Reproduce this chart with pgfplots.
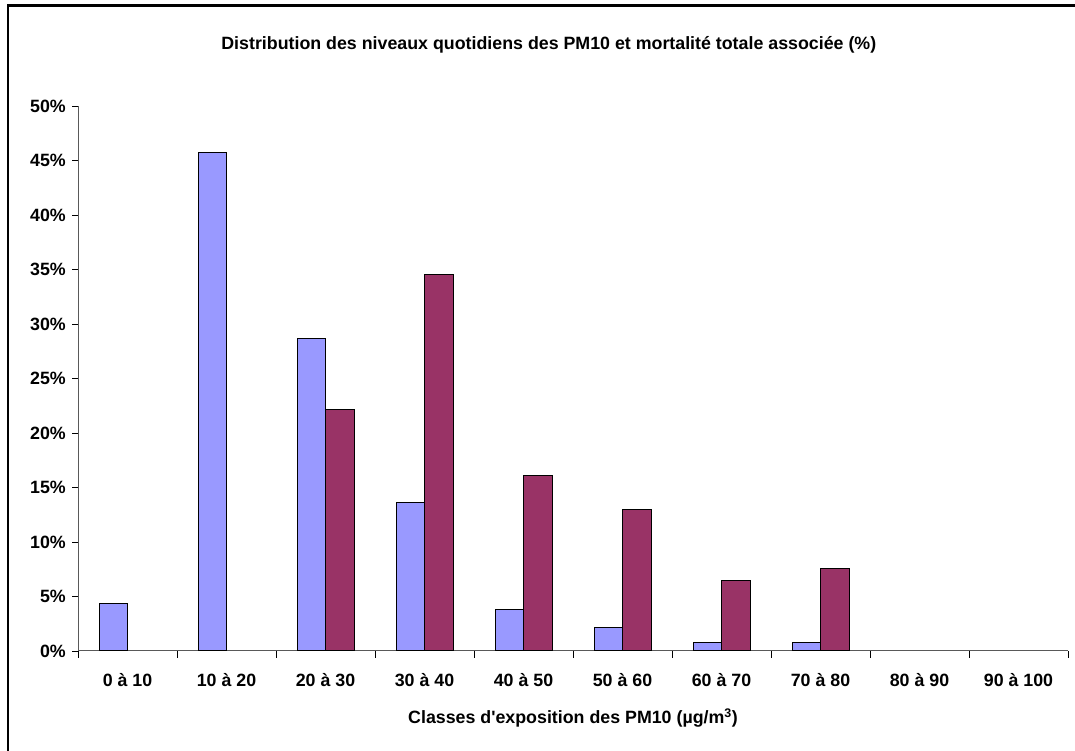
\documentclass[border=0pt]{standalone}
\usepackage{fontspec}
\setmainfont{Liberation Sans}
\usepackage{pgfplots}
\pgfplotsset{compat=1.18}

\definecolor{pmblue}{RGB}{153,153,255}
\definecolor{pmred}{RGB}{153,51,102}
\newcommand{\chartfont}{\fontsize{17.8bp}{20bp}\selectfont\bfseries}

\begin{document}
\begin{tikzpicture}[x=1bp,y=1bp]
\path[use as bounding box] (0,0) rectangle (1075,751);
% outer chart frame
\draw[line width=2.6bp] (8,-20) -- (8,745.7) -- (1100,745.7);
\node[anchor=base, font=\chartfont, inner sep=0pt] at (548.8,701)
  {Distribution des niveaux quotidiens des PM10 et mortalité totale associée (\%)};
\begin{axis}[
  at={(78bp,100bp)}, anchor=south west,
  width=990bp, height=545bp, scale only axis,
  xmin=-0.5, xmax=9.5, ymin=0, ymax=50,
  axis lines=left, axis line style={-, draw=black!65, line width=1bp},
  tick align=outside,
  major tick length=6bp, minor tick length=7bp,
  xtick={0,...,9},
  xticklabels={0 à 10,10 à 20,20 à 30,30 à 40,40 à 50,50 à 60,60 à 70,70 à 80,80 à 90,90 à 100},
  major x tick style={draw=none},
  minor xtick={-0.5,0.5,...,9.5},
  minor x tick style={draw=black, line width=0.8bp},
  ytick={0,5,...,50},
  yticklabels={0\%,5\%,10\%,15\%,20\%,25\%,30\%,35\%,40\%,45\%,50\%},
  y tick style={draw=black, line width=0.8bp},
  xticklabel style={font=\chartfont, anchor=base, inner sep=0pt, yshift=-30bp},
  yticklabel style={font=\chartfont, anchor=east, inner sep=0pt, xshift=-6bp},
  xlabel={Classes d\textquotesingle exposition des PM10 (µg/m\textsuperscript{3})},
  xlabel style={font=\chartfont, at={(axis description cs:0.5,0)}, anchor=base, inner sep=0pt, yshift=-73bp},
  ybar=0pt, bar width=28.5bp,
]
\addplot[fill=pmblue, draw=black, line width=1bp]
  coordinates {(0,4.4) (1,45.7) (2,28.7) (3,13.6) (4,3.8) (5,2.2) (6,0.8) (7,0.8)};
\addplot[fill=pmred, draw=black, line width=1bp]
  coordinates {(2,22.2) (3,34.5) (4,16.1) (5,13.0) (6,6.5) (7,7.6)};
\end{axis}
\end{tikzpicture}
\end{document}
